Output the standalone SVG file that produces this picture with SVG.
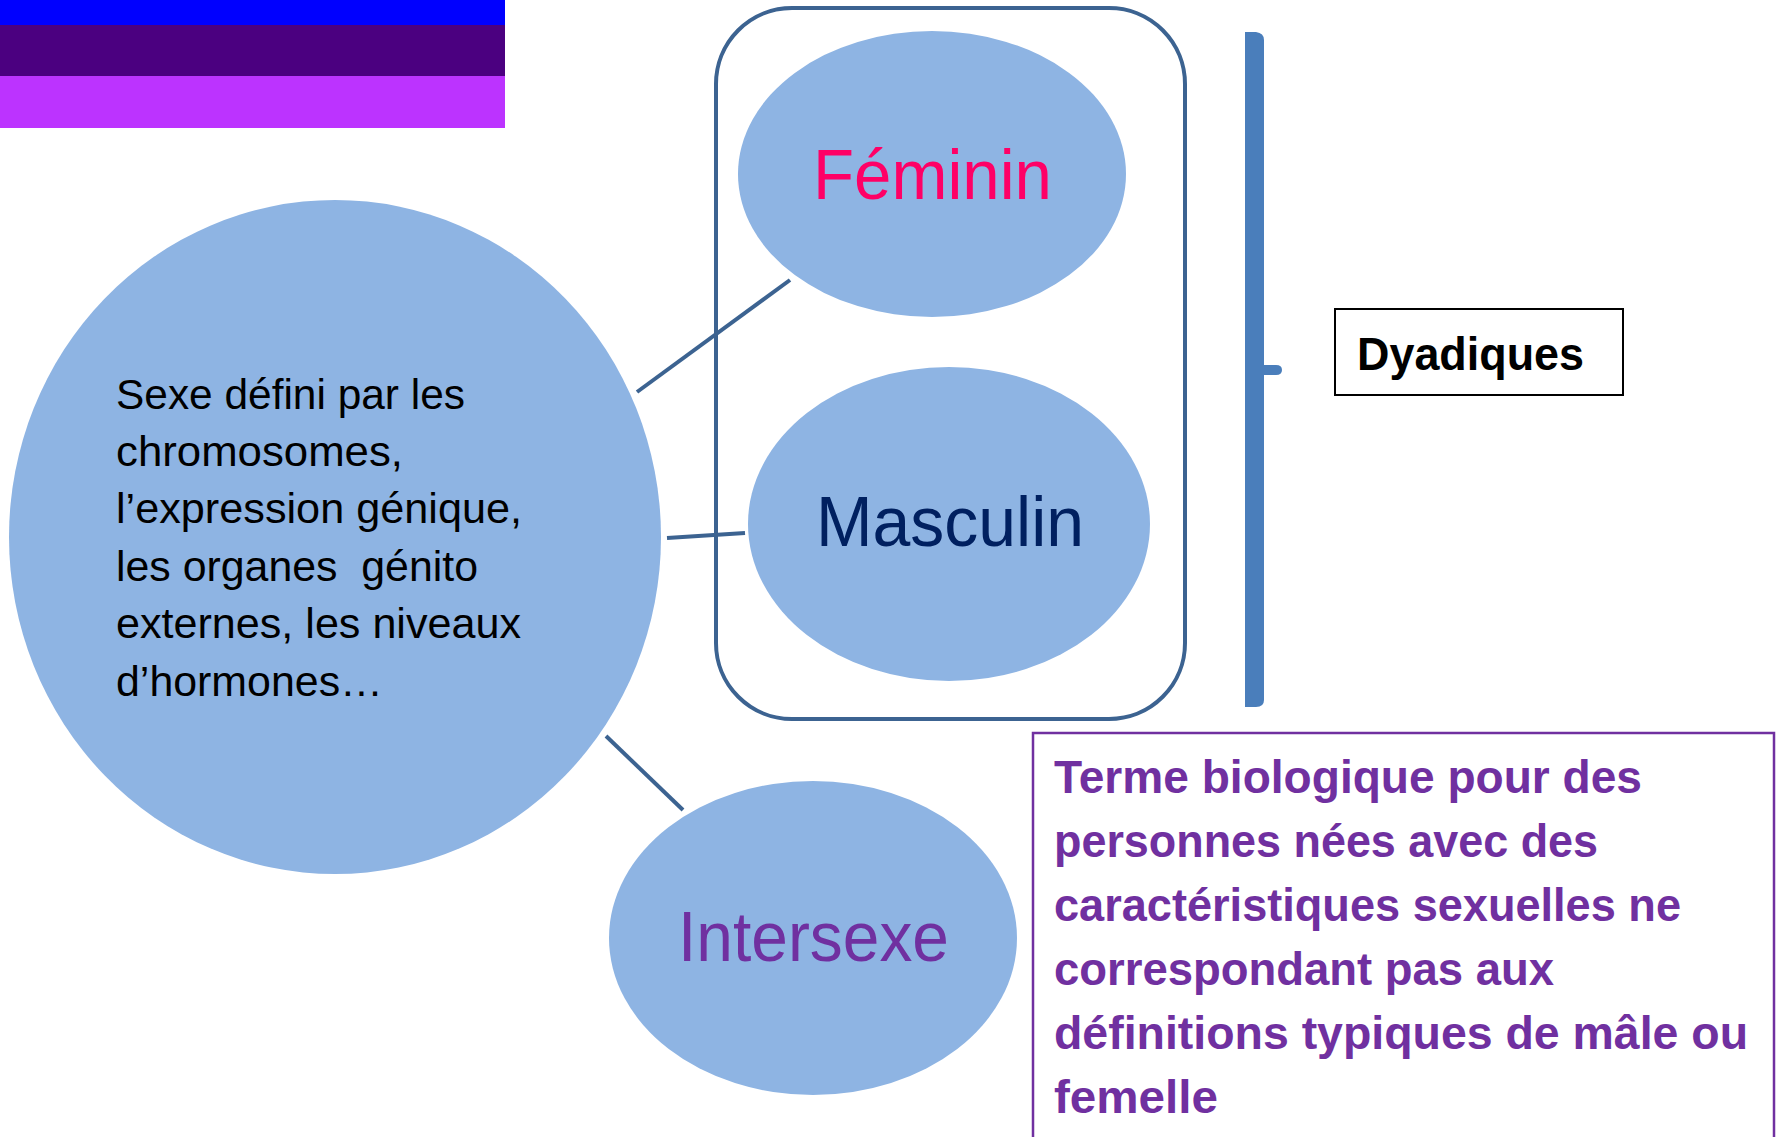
<svg xmlns="http://www.w3.org/2000/svg" width="1783" height="1137" viewBox="0 0 1783 1137">
<style>
.node{fill:#8EB4E3}
.conn line{stroke:#3C6391;stroke-width:4;stroke-linecap:butt}
.big{font-family:"Liberation Sans",Arial,sans-serif;font-size:71px}
.body{font-family:"Liberation Sans",Arial,sans-serif;font-size:43px;fill:#000}
.purple{font-family:"Liberation Sans",Arial,sans-serif;font-size:46px;font-weight:bold;fill:#7030A0}
</style>
<rect width="1783" height="1137" fill="#fff"/>
<g id="flag">
<rect x="0" y="0" width="505" height="25" fill="#0000FF"/>
<rect x="0" y="25" width="505" height="51" fill="#4B0080"/>
<rect x="0" y="76" width="505" height="52" fill="#BC33FF"/>
</g>
<g id="dyadic-group">
<rect x="716" y="8" width="469" height="711" rx="76" ry="76" fill="none" stroke="#3C6391" stroke-width="4"/>
</g>
<g class="conn" id="connectors">
<line x1="637" y1="392" x2="790" y2="280"/>
<line x1="667" y1="538" x2="745" y2="533"/>
<line x1="606" y1="736" x2="683" y2="810"/>
</g>
<g id="sexe">
<ellipse class="node" cx="335" cy="537" rx="326" ry="337"/>
<text class="body" x="116" y="409" textLength="349" lengthAdjust="spacingAndGlyphs">Sexe défini par les</text>
<text class="body" x="116" y="466" textLength="287" lengthAdjust="spacingAndGlyphs">chromosomes,</text>
<text class="body" x="116" y="523" textLength="406" lengthAdjust="spacingAndGlyphs">l’expression génique,</text>
<text class="body" x="116" y="581" textLength="362" lengthAdjust="spacingAndGlyphs" xml:space="preserve">les organes  génito</text>
<text class="body" x="116" y="638" textLength="405" lengthAdjust="spacingAndGlyphs">externes, les niveaux</text>
<text class="body" x="116" y="696" textLength="267" lengthAdjust="spacingAndGlyphs">d’hormones…</text>
</g>
<g id="feminin">
<ellipse class="node" cx="932" cy="174" rx="194" ry="143"/>
<text class="big" x="813" y="199" fill="#FF0066" textLength="239" lengthAdjust="spacingAndGlyphs">Féminin</text>
</g>
<g id="masculin">
<ellipse class="node" cx="949" cy="524" rx="201" ry="157"/>
<text class="big" x="816" y="546" fill="#002060" textLength="268" lengthAdjust="spacingAndGlyphs">Masculin</text>
</g>
<g id="intersexe">
<ellipse class="node" cx="813" cy="938" rx="204" ry="157"/>
<text class="big" x="678" y="961" fill="#7030A0" textLength="271" lengthAdjust="spacingAndGlyphs">Intersexe</text>
</g>
<g id="brace">
<path d="M1245 32 L1256 32 Q1264 33 1264 40 L1264 365 L1276 365 Q1282 365 1282 370 Q1282 375 1276 375 L1264 375 L1264 700 Q1264 707 1256 707 L1245 707 Z" fill="#4A7EBB"/>
</g>
<g id="dyadiques">
<rect x="1335" y="309" width="288" height="86" fill="#fff" stroke="#000" stroke-width="2"/>
<text x="1357" y="370" font-family="Liberation Sans, Arial, sans-serif" font-size="46" font-weight="bold" fill="#000" textLength="227" lengthAdjust="spacingAndGlyphs">Dyadiques</text>
</g>
<g id="definition">
<rect x="1033" y="733" width="741" height="420" fill="none" stroke="#7030A0" stroke-width="2.5"/>
<text class="purple" x="1054" y="793" textLength="588" lengthAdjust="spacingAndGlyphs">Terme biologique pour des</text>
<text class="purple" x="1054" y="857" textLength="544" lengthAdjust="spacingAndGlyphs">personnes nées avec des</text>
<text class="purple" x="1054" y="921" textLength="627" lengthAdjust="spacingAndGlyphs">caractéristiques sexuelles ne</text>
<text class="purple" x="1054" y="985" textLength="500" lengthAdjust="spacingAndGlyphs">correspondant pas aux</text>
<text class="purple" x="1054" y="1049" textLength="694" lengthAdjust="spacingAndGlyphs">définitions typiques de mâle ou</text>
<text class="purple" x="1054" y="1113" textLength="164" lengthAdjust="spacingAndGlyphs">femelle</text>
</g>
</svg>
